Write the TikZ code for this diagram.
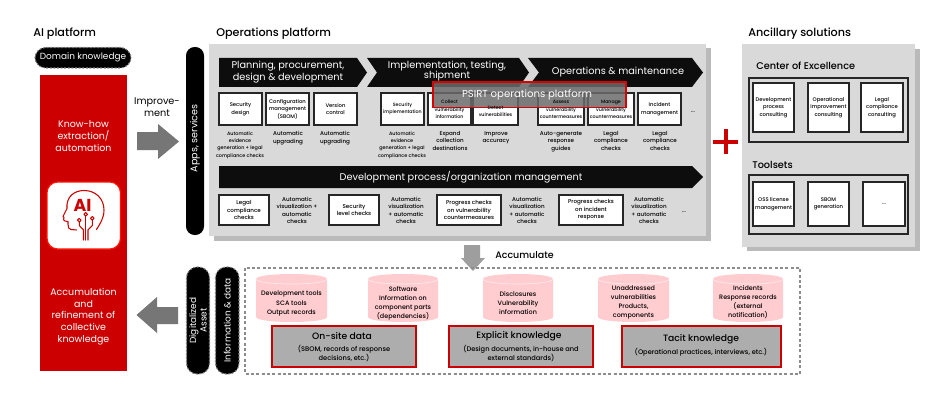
\documentclass[tikz,border=0pt]{standalone}
\usepackage{fontspec}
\setmainfont{Poppins}
\newfontfamily\medfont{Poppins Medium}
\definecolor{hitred}{RGB}{204,0,0}
\definecolor{panelgray}{RGB}{217,217,217}
\definecolor{shadowgray}{RGB}{186,186,186}
\definecolor{arrowgray}{RGB}{118,118,118}
\definecolor{cylpink}{RGB}{255,204,208}
\tikzset{
  heading/.style={anchor=west,inner sep=0pt,font=\medfont\fontsize{8.4}{10}\selectfont,text=black},
  subheading/.style={anchor=west,inner sep=0pt,font=\medfont\fontsize{7.3}{9}\selectfont,text=black},
  chevron/.style={fill=black!95,draw=none},
  chevtext/.style={inner sep=0pt,align=center,text=white,font=\fontsize{7.3}{9}\selectfont},
  whitebox/.style={fill=white,draw=black!85,line width=0.9pt},
  outerbox/.style={draw=black!85,line width=0.9pt},
  boxtext/.style={inner sep=0pt,align=center,text=black,font=\medfont\fontsize{3.95}{5.6}\selectfont},
  tightbox/.style={boxtext,font=\medfont\fontsize{3.55}{5.6}\selectfont},
  captext/.style={inner sep=0pt,align=center,text=black,font=\medfont\fontsize{4.2}{5.6}\selectfont},
  tightcap/.style={captext,font=\medfont\fontsize{3.65}{5.6}\selectfont},
  redtext/.style={inner sep=0pt,align=center,text=white,font=\fontsize{7.1}{8.8}\selectfont},
  pill/.style={fill=black,draw=none,rounded corners=6.5pt},
  dashpill/.style={fill=black,draw=black!50,dash pattern=on 1.5pt off 1.2pt,line width=0.8pt,rounded corners=8pt},
  pilltext/.style={inner sep=0pt,align=center,text=white,font=\fontsize{6.7}{8}\selectfont},
  cyl/.style={fill=cylpink,draw=none},
  cyltop/.style={draw=white!60!cylpink,line width=0.5pt},
  cyltext/.style={inner sep=0pt,align=center,text=black,font=\medfont\fontsize{4.8}{7}\selectfont},
  knowbox/.style={fill=black!32,draw=hitred,line width=1.3pt},
  knowhead/.style={inner sep=0pt,text=black,font=\medfont\fontsize{6.9}{9}\selectfont},
  knowtext/.style={inner sep=0pt,align=center,text=black,font=\medfont\fontsize{5}{6.6}\selectfont},
  iconline/.style={draw=hitred,line width=0.8pt,line cap=round,line join=round},
}
\begin{document}
\begin{tikzpicture}[x=0.75pt,y=0.75pt,yscale=-1,xscale=1]
\path [use as bounding box,fill=white] (0,0) rectangle (950,403);

% Titles
\node [heading] (aititle) at (33,34) {AI platform};
\node [heading] (optitle) at (216,34) {Operations platform};
\node [heading] (anctitle) at (748,34) {Ancillary solutions};

% AI platform column
\draw [dashpill] (35,47.5) rectangle (131,68) node [pilltext,midway] (domain) {Domain knowledge};
\draw [fill=hitred,draw=none] (40,75) rectangle (127,371);
\node [redtext] (knowhow) at (83.5,136) {Know-how\\extraction/\\automation};
\node [redtext] (accum) at (83.5,316.5) {Accumulation\\and\\refinement of\\collective\\knowledge};
\draw [fill=white,draw=red!85!orange,line width=0.9pt,rounded corners=8pt] (47,182) rectangle (120.5,249);

%Shape: head of the AI icon
\draw [iconline] (76.5,230) -- (71,229.5) .. controls (68.5,229.5) and (68,227) .. (68,224) -- (68,221.5) -- (65,221) .. controls (63.5,220.5) and (63,219) .. (64,217.5) -- (63,216.5) -- (67,208.5) .. controls (66,197) and (74,190.5) .. (84,190.5) .. controls (96,190.5) and (104,199) .. (104,210) .. controls (104,218) and (100,224) .. (96.5,229.5);
\node [inner sep=0pt,text=hitred,font=\fontsize{13}{13}\selectfont\bfseries] (ailabel) at (82.5,205.5) {AI};
\draw [iconline] (85.7,216) -- (85.7,240);
\draw [iconline] (83.5,240) -- (83.5,230) -- (79.3,225.5) -- (79.3,222);
\draw [iconline] (88,240) -- (88,230) -- (92.3,225.5) -- (92.3,220);
\draw [iconline] (85.7,214.3) circle (1.8);
\draw [iconline] (79.3,220.2) circle (1.8);
\draw [iconline] (92.3,218.3) circle (1.8);

% Block arrows
\node [inner sep=0pt,align=center,text=black,font=\fontsize{7.3}{9.1}\selectfont] (improve) at (157,107.5) {Improve-\\ment};
\draw [fill=arrowgray,draw=none] (137,132) -- (158,132) -- (158,124) -- (179,141.5) -- (158,159) -- (158,150) -- (137,150) -- cycle;
\draw [fill=arrowgray,draw=none] (178,307) -- (157,307) -- (157,297) -- (136.5,315) -- (157,333) -- (157,324) -- (178,324) -- cycle;

% Side labels
\draw [pill] (186,47) rectangle (204,235) node [pilltext,midway,rotate=90,xshift=2pt,font=\fontsize{7.2}{8}\selectfont] (apps) {Apps, services};
\draw [dashpill] (186.5,267) rectangle (209.5,374) node [pilltext,midway,rotate=90] (digital) {Digitalized\\Asset};
\draw [dashpill] (215.5,267) rectangle (239,374) node [pilltext,midway,rotate=90] (infodata) {Information \& data};

% Operations panel
\draw [fill=shadowgray,draw=none] (214,48) rectangle (711,241);
\draw [fill=panelgray,draw=none] (209,44) rectangle (706,236);

% Chevrons
\draw [chevron] (219,58) -- (357,58) -- (367,72.5) -- (357,87) -- (219,87) -- cycle;
\node [chevtext] (plan) at (288,72) {Planning, procurement,\\design \& development};
\draw [chevron] (367,58) -- (519,58) -- (529,72.5) -- (519,87) -- (367,87) -- (377,72.5) -- cycle;
\node [chevtext,font=\fontsize{7.3}{7.6}\selectfont] (impl) at (447,71) {Implementation, testing,\\shipment};
\draw [chevron] (528,58) -- (692,58) -- (703,72.5) -- (692,87) -- (528,87) -- (539,72.5) -- cycle;
\node [chevtext] (opsmaint) at (618,72.5) {Operations \& maintenance};

% Upper boxes
\draw [whitebox] (219,93) rectangle (262,125) node [boxtext,midway] (secdesign) {Security\\design};
\draw [whitebox] (266,93) rectangle (309,125) node [boxtext,midway] (config) {Configuration\\management\\(SBOM)};
\draw [whitebox] (314,93) rectangle (357,125) node [boxtext,midway] (version) {Version\\control};
\draw [whitebox] (381,93) rectangle (424,125) node [tightbox,midway] (secimpl) {Security\\implementation};
\draw [whitebox] (428,93) rectangle (471,125);
\draw [whitebox] (473,93) rectangle (518,125);
\draw [whitebox] (538,93) rectangle (584,125);
\draw [whitebox] (588,93) rectangle (634,125);
\draw [whitebox] (638,93) rectangle (681,125) node [boxtext,midway] (incident) {Incident\\management};
\node [captext] (moreup) at (693,112) {...};

% Text Node
\node [tightcap,anchor=north] (capa) at (240,131) {Automatic\\evidence\\generation + legal\\compliance checks};
\node [captext,anchor=north] (capb) at (288,131) {Automatic\\upgrading};
\node [captext,anchor=north] (capc) at (335,131) {Automatic\\upgrading};
\node [tightcap,anchor=north] (capd) at (402,131) {Automatic\\evidence\\generation + legal\\compliance checks};
\node [captext,anchor=north] (cape) at (450,131) {Expand\\collection\\destinations};
\node [captext,anchor=north] (capf) at (496,131) {Improve\\accuracy};
\node [captext,anchor=north] (capg) at (561,131) {Auto-generate\\response\\guides};
\node [captext,anchor=north] (caph) at (611,131) {Legal\\compliance\\checks};
\node [captext,anchor=north] (capi) at (660,131) {Legal\\compliance\\checks};

% PSIRT band
\draw [fill=black!58,fill opacity=0.85,draw=red!85!black,line width=1.2pt] (433,82) rectangle (626,107.5);
\node [inner sep=0pt,text=white,font=\fontsize{7.6}{9}\selectfont] (psirt) at (527,95) {PSIRT operations platform};
\node [tightbox] (collect) at (449.5,109.5) {Collect\\vulnerability\\information};
\node [tightbox] (detect) at (495.5,111.5) {Detect\\vulnerabilities};
\node [tightbox] (assess) at (561,109.5) {Assess\\vulnerability\\countermeasures};
\node [tightbox] (manage) at (611,109.5) {Manage\\vulnerability\\countermeasures};

% Development process band
\draw [chevron] (219,166) -- (692,166) -- (703,177) -- (692,188) -- (219,188) -- cycle;
\node [chevtext] (devproc) at (461,177) {Development process/organization management};

% Lower boxes
\draw [whitebox] (219,195) rectangle (269,225) node [captext,midway] (legal) {Legal\\compliance\\checks};
\draw [whitebox] (329,195) rectangle (379,225) node [captext,midway] (seclevel) {Security\\level checks};
\draw [whitebox] (437,195) rectangle (501,225) node [captext,midway] (progvuln) {Progress checks\\on vulnerability\\countermeasures};
\draw [whitebox] (559,195) rectangle (623,225) node [captext,midway] (proginc) {Progress checks\\on incident\\response};
\node [captext] (viza) at (297,210.5) {Automatic\\visualization +\\automatic\\checks};
\node [captext] (vizb) at (406,210.5) {Automatic\\visualization\\+ automatic\\checks};
\node [captext] (vizc) at (527,210.5) {Automatic\\visualization\\+ automatic\\checks};
\node [captext] (vizd) at (649,210.5) {Automatic\\visualization\\+ automatic\\checks};
\node [captext] (moredown) at (684,212) {...};

% Plus sign
\draw [hitred,line width=3pt] (713,141.5) -- (738,141.5);
\draw [hitred,line width=3pt] (725.5,129) -- (725.5,154);

% Ancillary panel
\draw [fill=shadowgray,draw=none] (747,49) rectangle (920,251);
\draw [fill=panelgray,draw=none] (742,44) rectangle (915,247);
\node [subheading] (coe) at (756,65.5) {Center of Excellence};
\draw [outerbox] (749,78) rectangle (908,142);
\draw [whitebox] (753,83) rectangle (794,132) node [boxtext,midway] (devcons) {Development\\process\\consulting};
\draw [whitebox] (808,83) rectangle (849,132) node [boxtext,midway] (opcons) {Operational\\improvement\\consulting};
\draw [whitebox] (861,83) rectangle (903,132) node [boxtext,midway] (legcons) {Legal\\compliance\\consulting};
\node [subheading] (toolsets) at (752,165) {Toolsets};
\draw [outerbox] (749,175) rectangle (908,234);
\draw [whitebox] (753,182) rectangle (794,226) node [boxtext,midway] (oss) {OSS license\\management};
\draw [whitebox] (808,182) rectangle (849,226) node [boxtext,midway] (sbom) {SBOM\\generation};
\draw [whitebox] (863,182) rectangle (905,226) node [boxtext,midway] (moretools) {...};

% Accumulate arrow
\draw [fill=black!38,draw=none] (464,245) -- (480,245) -- (480,258) -- (485,258) -- (473,271) -- (461,258) -- (464,258) -- cycle;
\node [inner sep=0pt,anchor=west,text=black,font=\medfont\fontsize{7.1}{9}\selectfont] (accumulate) at (495,255.5) {Accumulate};

% Digital asset frame
\draw [draw=black!45,dash pattern=on 2.2pt off 1.8pt,line width=1pt] (245,268) rectangle (800,374);

%Shape: cylinders
\draw [cyl] (256,279) -- (256,317) .. controls (256,320) and (272,322) .. (291.5,322) .. controls (311,322) and (327,320) .. (327,317) -- (327,279) .. controls (327,276) and (311,274) .. (291.5,274) .. controls (272,274) and (256,276) .. (256,279) -- cycle;
\draw [cyltop] (256,279) .. controls (256,282) and (272,284) .. (291.5,284) .. controls (311,284) and (327,282) .. (327,279);
\draw [cyl] (368,279) -- (368,317) .. controls (368,320) and (384,322) .. (403,322) .. controls (422,322) and (438,320) .. (438,317) -- (438,279) .. controls (438,276) and (422,274) .. (403,274) .. controls (384,274) and (368,276) .. (368,279) -- cycle;
\draw [cyltop] (368,279) .. controls (368,282) and (384,284) .. (403,284) .. controls (422,284) and (438,282) .. (438,279);
\draw [cyl] (483,279) -- (483,317) .. controls (483,320) and (499,322) .. (518,322) .. controls (537,322) and (553,320) .. (553,317) -- (553,279) .. controls (553,276) and (537,274) .. (518,274) .. controls (499,274) and (483,276) .. (483,279) -- cycle;
\draw [cyltop] (483,279) .. controls (483,282) and (499,284) .. (518,284) .. controls (537,284) and (553,282) .. (553,279);
\draw [cyl] (598,279) -- (598,317) .. controls (598,320) and (614,322) .. (633.5,322) .. controls (653,322) and (669,320) .. (669,317) -- (669,279) .. controls (669,276) and (653,274) .. (633.5,274) .. controls (614,274) and (598,276) .. (598,279) -- cycle;
\draw [cyltop] (598,279) .. controls (598,282) and (614,284) .. (633.5,284) .. controls (653,284) and (669,282) .. (669,279);
\draw [cyl] (713,279) -- (713,317) .. controls (713,320) and (729,322) .. (748,322) .. controls (767,322) and (783,320) .. (783,317) -- (783,279) .. controls (783,276) and (767,274) .. (748,274) .. controls (729,274) and (713,276) .. (713,279) -- cycle;
\draw [cyltop] (713,279) .. controls (713,282) and (729,284) .. (748,284) .. controls (767,284) and (783,282) .. (783,279);

% Text Node
\node [cyltext] (cyla) at (291.5,303.5) {Development tools\\SCA tools\\Output records};
\node [cyltext,font=\medfont\fontsize{4.8}{6.7}\selectfont] (cylb) at (403,303.5) {Software\\Information on\\component parts\\(dependencies)};
\node [cyltext,font=\medfont\fontsize{4.8}{6.8}\selectfont] (cylc) at (518,303) {Disclosures\\Vulnerability\\information};
\node [cyltext,font=\medfont\fontsize{4.8}{6.7}\selectfont] (cyld) at (633.5,302.5) {Unaddressed\\vulnerabilities\\Products,\\components};
\node [cyltext,font=\medfont\fontsize{4.8}{6.7}\selectfont] (cyle) at (748,302.5) {Incidents\\Response records\\(external\\notification)};

% Knowledge boxes
\draw [knowbox] (272,326) rectangle (416,367);
\node [knowhead] (onsite) at (342,336) {On-site data};
\node [knowtext] (onsitesub) at (344,353.5) {(SBOM, records of response\\decisions, etc.)};
\draw [knowbox] (449,326) rectangle (593,367);
\node [knowhead] (explicit) at (519,336) {Explicit knowledge};
\node [knowtext] (explicitsub) at (521,353.5) {(Design documents, in-house and\\external standards)};
\draw [knowbox] (622,326) rectangle (781,367);
\node [knowhead] (tacit) at (701,339) {Tacit knowledge};
\node [knowtext] (tacitsub) at (701,352) {(Operational practices, interviews, etc.)};
\end{tikzpicture}
\end{document}
